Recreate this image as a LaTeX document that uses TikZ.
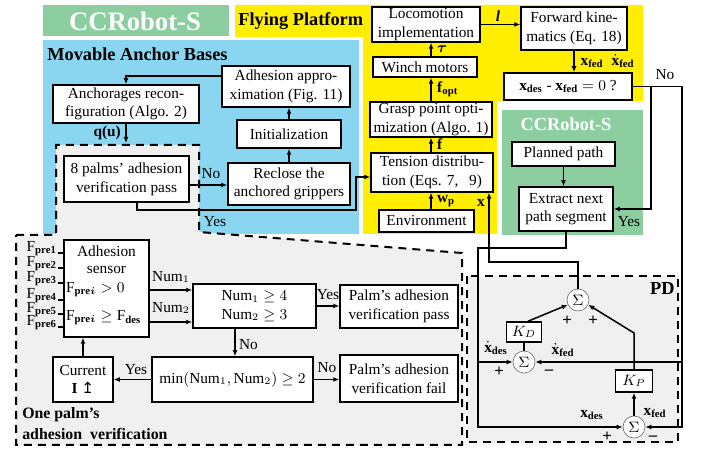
\documentclass[tikz,border=0pt]{standalone}
\usepackage{fontspec}
\usepackage{amsmath}
\setmainfont{Liberation Serif}
\newfontfamily\arrowfont{DejaVu Sans}
\usetikzlibrary{arrows.meta}

\definecolor{ccgreen}{RGB}{140,206,160}
\definecolor{flyyellow}{RGB}{255,238,0}
\definecolor{anchorblue}{RGB}{138,214,240}
\definecolor{palmgray}{RGB}{240,240,240}

\newcommand{\vecx}[1]{$\mathbf{x}_{\mathbf{#1}}$}
\newcommand{\dvecx}[1]{$\dot{\mathbf{x}}_{\mathbf{#1}}$}
\newcommand{\fpre}[1]{$\mathrm{F}_{\mathbf{pre#1}}$}

\begin{document}
\begin{tikzpicture}
	[
	x = {(0.6pt, 0pt)},
	y = {(0pt, -0.6pt)},
	font = \fontsize{9.2}{11.2}\selectfont,
	box/.style 2 args = {draw = black, line width = 0.9pt, fill = white, align = center, inner sep = 0.5pt, minimum width = #1*0.6pt, minimum height = #2*0.6pt},
	arr/.style = {line width = 0.9pt, -{Latex[length = 3.6pt, width = 3pt]}},
	link/.style = {line width = 0.9pt},
	region/.style = {line width = 1.2pt, dash pattern = on 4.8pt off 3.6pt},
	sum/.style = {circle, draw = black!55, fill = white, thin, inner sep = 0pt, minimum size = 13.2pt},
	lbl/.style = {inner sep = 0.5pt},
	sign/.style = {inner sep = 0.5pt, font = \fontsize{10}{11}\selectfont\bfseries},
	title/.style = {font = \fontsize{11}{13}\selectfont\bfseries, inner sep = 0pt}]
	
	\useasboundingbox (0,0) rectangle (702,450);
	
	%% Drawing the coloured areas
	
	\fill[ccgreen] (43,5) rectangle (229,36);
	\fill[flyyellow] (235,5) -- (643,5) -- (643,101) -- (497,101) -- (497,234) -- (363,234) -- (363,37) -- (235,37) -- cycle;
	\fill[anchorblue] (43,40) rectangle (359,234);
	\fill[ccgreen] (502,110) rectangle (643,235);
	\fill[palmgray] (16,235) -- (56,235) -- (56,145) -- (199,145) -- (199,232) -- (462,253) -- (462,445) -- (16,445) -- cycle;
	\draw[region] (16,235) -- (56,235) -- (56,145) -- (199,145) -- (199,232) -- (462,253) -- (462,445) -- (16,445) -- cycle;
	\fill[palmgray] (467,276) rectangle (678,442);
	\draw[region] (467,276) rectangle (678,442);
	
	\node[title, font = \fontsize{16}{18}\selectfont\bfseries, text = white] (robottitle) at (135,21) {CCRobot-S};
	\node[title, anchor = west] (flytitle) at (238,21) {Flying Platform};
	\node[title, anchor = west] (anchortitle) at (47,54) {Movable Anchor Bases};
	\node[title, text = white] (robotsub) at (566,124) {CCRobot-S};
	\node[title, anchor = east] (pdtitle) at (675,289) {PD};
	\node[title, font = \fontsize{9.5}{11}\selectfont\bfseries, anchor = west] (palmtitle) at (22,415) {One palm's};
	\node[title, font = \fontsize{9.5}{11}\selectfont\bfseries, anchor = west] (palmtitleb) at (22,434) {adhesion\ \ verification};
	
	%% Movable anchor bases
	
	\node[box = {146}{38}] (anch) at (126,104) {Anchorages recon-\\figuration (Algo. 2)};
	\node[box = {128}{41}] (approx) at (286,86.5) {Adhesion appro-\\ximation (Fig. 11)};
	\node[box = {104}{28}] (init) at (289,134) {Initialization};
	\node[box = {122}{42}] (reclose) at (289,184) {Reclose the\\anchored grippers};
	\node[box = {125}{46}] (palms) at (126.5,179) {8 palms' adhesion\\verification pass};
	
	%% Flying platform
	
	\node[box = {108}{35}] (loco) at (426,24.5) {Locomotion\\implementation};
	\node[box = {106}{43}] (fwd) at (574,28.5) {Forward kine-\\matics (Eq. 18)};
	\node[box = {104}{20}] (winch) at (425,67) {Winch motors};
	\node[box = {122}{35}] (grasp) at (431,119.5) {Grasp point opti-\\mization (Algo. 1)};
	\node[box = {122}{39}] (tension) at (432,172.5) {Tension distribu-\\tion (Eqs. 7,\hspace{0.7em}9)};
	\node[box = {95}{22}] (env) at (426.5,221) {Environment};
	\node[box = {128}{27}] (check) at (568,86.5) {\vecx{des} - \vecx{fed} $= 0$ ?};
	
	%% CCRobot-S path
	
	\node[box = {103}{24}] (path) at (563.5,154) {Planned path};
	\node[box = {94}{44}] (extract) at (566,209) {Extract next\\path segment};
	
	%% One palm's adhesion verification
	
	\node[box = {85}{97}] (sensor) at (106.5,288.5) {};
	\node[lbl] (sensora) at (106.5,251) {Adhesion};
	\node[lbl] (sensorb) at (106.5,270) {sensor};
	\node[lbl, anchor = west] (sensorc) at (65,290) {$\mathrm{F}_{\mathbf{pre}\boldsymbol{i}} > 0$};
	\node[lbl, anchor = west] (sensord) at (65,318) {$\mathrm{F}_{\mathbf{pre}\boldsymbol{i}} \geq \mathrm{F}_{\mathbf{des}}$};
	\node[box = {123}{44}] (numbox) at (254.5,306) {$\mathrm{Num}_1 \geq 4$\\$\mathrm{Num}_2 \geq 3$};
	\node[box = {118}{43}] (pass) at (399,306.5) {Palm's adhesion\\verification pass};
	\node[box = {161}{45}] (minbox) at (232.5,379.5) {$\min(\mathrm{Num}_1, \mathrm{Num}_2) \geq 2$};
	\node[box = {118}{47}] (fail) at (399,378.5) {Palm's adhesion\\verification fail};
	\node[box = {60}{45}] (current) at (83,379.5) {Current\\\textbf{I}\ {\arrowfont ↥}};
	
	\foreach \i/\yy in {1/253, 2/268, 3/283, 4/300, 5/314, 6/327}
	{
		\node[lbl, anchor = east] (fpre\i) at (58,\yy-4) {\fpre{\i}};
		\draw[link] (fpre\i.east |- 0,\yy) -- (sensor.west |- 0,\yy);
	}
	
	%% PD controller
	
	\node[sum] (sumtop) at (578,300) {$\Sigma$};
	\node[sum] (sumd) at (524,362) {$\Sigma$};
	\node[sum] (sump) at (634,427) {$\Sigma$};
	\node[box = {35}{20}] (kd) at (524,332) {$K_D$};
	\node[box = {37}{22}] (kp) at (634,381) {$K_P$};
	
	%% Connectors in the anchor bases
	
	\coordinate (palmin) at (126,143);
	\coordinate (yesa) at (137,210);
	\coordinate (yesb) at (356,177);
	
	\draw[arr] ([yshift = 6.3pt]approx.west) -| (anch.north);
	\draw[arr] (anch.south) -- (palmin);
	\node[lbl, anchor = east] (qlabel) at (122,133) {\textbf{q(u)}};
	\draw[arr] (reclose.north) -- (init.south);
	\draw[arr] (init.north) -- (init.north |- approx.south);
	\draw[arr] ([yshift = -3.6pt]palms.east) -- ([yshift = -3.6pt]palms.east -| reclose.west);
	\node[lbl] (nolabela) at (211,174) {No};
	\draw[arr] (palms.south -| yesa) -- (yesa) -- (yesa -| yesb) -- (yesb) -- (yesb -| tension.west);
	\node[lbl] (yeslabela) at (215,222) {Yes};
	
	%% Connectors in the flying platform
	
	\coordinate (col) at (431,0);
	\draw[arr] (col |- env.north) -- (col |- tension.south);
	\draw[arr] (col |- tension.north) -- (col |- grasp.south);
	\draw[arr] (col |- grasp.north) -- (col |- winch.south);
	\draw[arr] (col |- winch.north) -- (col |- loco.south);
	\draw[arr] (loco.east) -- (loco.east -| fwd.west);
	\draw[arr] (fwd.south) -- (fwd.south |- check.north);
	\draw[arr] (path.south) -- (path.south |- extract.north);
	
	\node[lbl, anchor = west] (wlabel) at (436,201) {\textbf{w}$_{\mathbf{p}}$};
	\node[lbl, anchor = west] (flabel) at (436,144) {\textbf{f}};
	\node[lbl, anchor = west] (foptlabel) at (436,89) {\textbf{f}$_{\mathbf{opt}}$};
	\node[lbl, anchor = west] (taulabel) at (436,49) {$\boldsymbol{\tau}$};
	\node[lbl] (llabel) at (498,16) {\textbf{\textit{l}}};
	\node[lbl] (xfedlabel) at (592,63) {\vecx{fed}};
	\node[lbl] (dxfedlabel) at (623,61) {\dvecx{fed}};
	\node[lbl, anchor = east] (xlabel) at (486,203) {\textbf{x}};
	
	%% Feedback loop
	
	\coordinate (fbcorner) at (682,427);
	\coordinate (yescol) at (651,0);
	\coordinate (desturn) at (478,248);
	\coordinate (xturn) at (489,262);
	\coordinate (kpup) at (634,333);
	
	\draw[arr] (check.east) -| (fbcorner) -- (sump.east);
	\draw[arr] (fbcorner |- sumd) -- (sumd.east);
	\draw[arr] (check.east -| yescol) |- (extract.east);
	\draw[arr] (extract.south) |- (desturn) -- (desturn |- sump) -- (sump.west);
	\draw[arr] (desturn |- sumd) -- (sumd.west);
	\draw[arr] (sumtop.north) |- (xturn) -- (xturn |- tension.south);
	\draw[arr] ([xshift = 2.4pt]kd.north) -- (sumtop.205);
	\draw[arr] (sump.north) -- (kp.south);
	\draw[arr] (kp.north) -- (kpup) -- (sumtop.-25);
	\draw[link] (kd.south) -- (sumd.north);
	
	\node[lbl] (nolabelb) at (665,75) {No};
	\node[lbl] (yeslabelb) at (629,222) {Yes};
	\node[sign] (plusa) at (567,321) {+};
	\node[sign] (plusb) at (593,321) {+};
	\node[sign] (plusc) at (499,372) {+};
	\node[sign] (minusa) at (549,372) {–};
	\node[sign] (plusd) at (607,437) {+};
	\node[sign] (minusb) at (653,438) {–};
	\node[lbl] (dxdeslabel) at (496,348) {\dvecx{des}};
	\node[lbl] (dxfedlabelb) at (563,350) {\dvecx{fed}};
	\node[lbl] (xdeslabel) at (592,415) {\vecx{des}};
	\node[lbl] (xfedlabelb) at (655,413) {\vecx{fed}};
	
	%% Connectors in the palm verification
	
	\coordinate (nocol) at (235,0);
	\draw[arr] (sensor.east |- 0,290) -- (numbox.west |- 0,290);
	\draw[arr] (sensor.east |- 0,322) -- (numbox.west |- 0,322);
	\node[lbl] (numa) at (171,277) {$\mathrm{Num}_1$};
	\node[lbl] (numb) at (171,308) {$\mathrm{Num}_2$};
	\draw[arr] (numbox.east) -- (numbox.east -| pass.west);
	\node[lbl] (yeslabelc) at (328,295) {Yes};
	\draw[arr] (numbox.south -| nocol) -- (minbox.north -| nocol);
	\node[lbl, anchor = west] (nolabelc) at (238,345) {No};
	\draw[arr] (minbox.east) -- (minbox.east -| fail.west);
	\node[lbl] (nolabeld) at (327,368) {No};
	\draw[arr] (minbox.west) -- (minbox.west -| current.east);
	\node[lbl] (yeslabeld) at (136,370) {Yes};
	\draw[arr] (current.north) -- (current.north |- sensor.south);
\end{tikzpicture}
\end{document}
